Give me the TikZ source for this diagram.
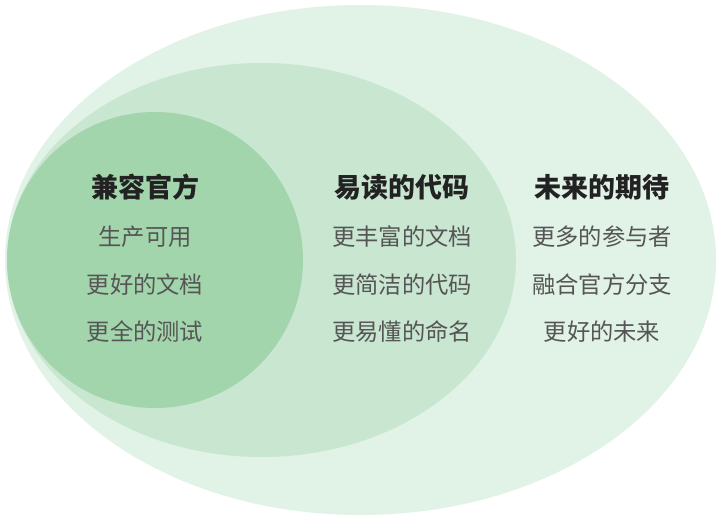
\documentclass[tikz,border=0pt]{standalone}
\usepackage{fontspec}
\newfontfamily\cjk{Noto Sans CJK SC}
\definecolor{outerc}{HTML}{E1F2E6}
\definecolor{midc}{HTML}{C8E6D0}
\definecolor{innerc}{HTML}{A2D5AB}
\definecolor{titlec}{HTML}{222222}
\definecolor{bodyc}{HTML}{555555}
\begin{document}
\begin{tikzpicture}[x=1pt,y=-1pt,
  ttl/.style={font=\cjk\bfseries\fontsize{27}{32}\selectfont,text=titlec,inner sep=0pt,anchor=center},
  bdy/.style={font=\cjk\fontsize{23.3}{28}\selectfont,text=bodyc,inner sep=0pt,anchor=center}]
\useasboundingbox (0,0) rectangle (726,520);
\fill[outerc] (360.5,260) ellipse [x radius=355.5, y radius=255];
\fill[midc] (261.5,260) ellipse [x radius=254.5, y radius=197];
\fill[innerc] (155,260) ellipse [x radius=148, y radius=148];
\node[ttl] (t1) at (145,187) {兼容官方};
\node[bdy] (a1) at (145,237) {生产可用};
\node[bdy] (a2) at (145,285) {更好的文档};
\node[bdy] (a3) at (145,332) {更全的测试};
\node[ttl] (t2) at (402,187) {易读的代码};
\node[bdy] (b1) at (402,237) {更丰富的文档};
\node[bdy] (b2) at (402,285) {更简洁的代码};
\node[bdy] (b3) at (402,332) {更易懂的命名};
\node[ttl] (t3) at (602,187) {未来的期待};
\node[bdy] (c1) at (602,237) {更多的参与者};
\node[bdy] (c2) at (602,285) {融合官方分支};
\node[bdy] (c3) at (602,332) {更好的未来};
\end{tikzpicture}
\end{document}
